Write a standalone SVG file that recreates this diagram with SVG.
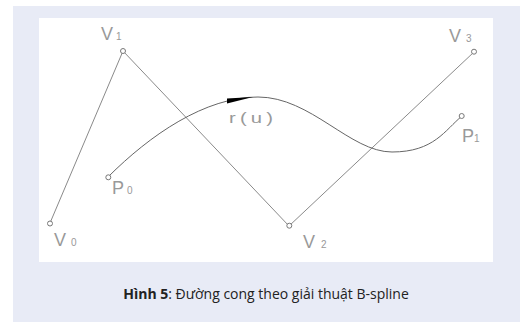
<svg xmlns="http://www.w3.org/2000/svg" width="520" height="322" viewBox="0 0 520 322">
<style>
.lbl{font-family:"Liberation Sans","DejaVu Sans",sans-serif;font-weight:normal;fill:#999;}
.big{font-size:18px;}
.sub{font-size:10px;}
.pt{fill:#fff;stroke:#777;stroke-width:1;}
.edge{fill:none;stroke:#8a8a8a;stroke-width:1;}
.cap{font-family:"Open Sans","Noto Sans",sans-serif;font-size:14px;fill:#222;}
</style>
<rect x="0" y="0" width="520" height="322" fill="#ffffff"/>
<rect x="13" y="6" width="507" height="316" fill="#e8ebf6"/>
<rect x="39" y="18" width="454" height="244" fill="#ffffff"/>
<g id="connectors">
<polyline class="edge" points="50,223 123,51 289,226 474,52"/>
<path id="curve" d="M108,177 C150,135 205,97 258,97 S350,152 392,152 S445,130 462,116" fill="none" stroke="#666" stroke-width="1"/>
<polygon points="227,98.5 253,97 227,103.5" fill="#000"/>
</g>
<g id="V0"><circle class="pt" cx="50" cy="223.5" r="2.5"/><text class="lbl big" x="54" y="246">V</text><text class="lbl sub" x="71" y="246">0</text></g>
<g id="V1"><circle class="pt" cx="123" cy="51" r="2.5"/><text class="lbl big" x="101" y="40">V</text><text class="lbl sub" x="116" y="40">1</text></g>
<g id="V2"><circle class="pt" cx="289.3" cy="225.7" r="2.5"/><text class="lbl big" x="303" y="248">V</text><text class="lbl sub" x="321" y="248">2</text></g>
<g id="V3"><circle class="pt" cx="474" cy="51.7" r="2.5"/><text class="lbl big" x="449" y="42">V</text><text class="lbl sub" x="466" y="42">3</text></g>
<g id="P0"><circle class="pt" cx="108.3" cy="177.3" r="2.5"/><text class="lbl big" x="112" y="194">P</text><text class="lbl sub" x="127" y="194">0</text></g>
<g id="P1"><circle class="pt" cx="461.7" cy="116" r="2.5"/><text class="lbl big" x="462" y="142">P</text><text class="lbl sub" x="474" y="142">1</text></g>
<g id="ru"><text class="lbl" font-size="15" transform="translate(229,123) scale(1.35,1)" textLength="32.6" lengthAdjust="spacing">r(u)</text></g>
<text class="cap" x="266" y="299" text-anchor="middle"><tspan font-weight="bold">Hình 5</tspan>: Đường cong theo giải thuật B-spline</text>
</svg>
